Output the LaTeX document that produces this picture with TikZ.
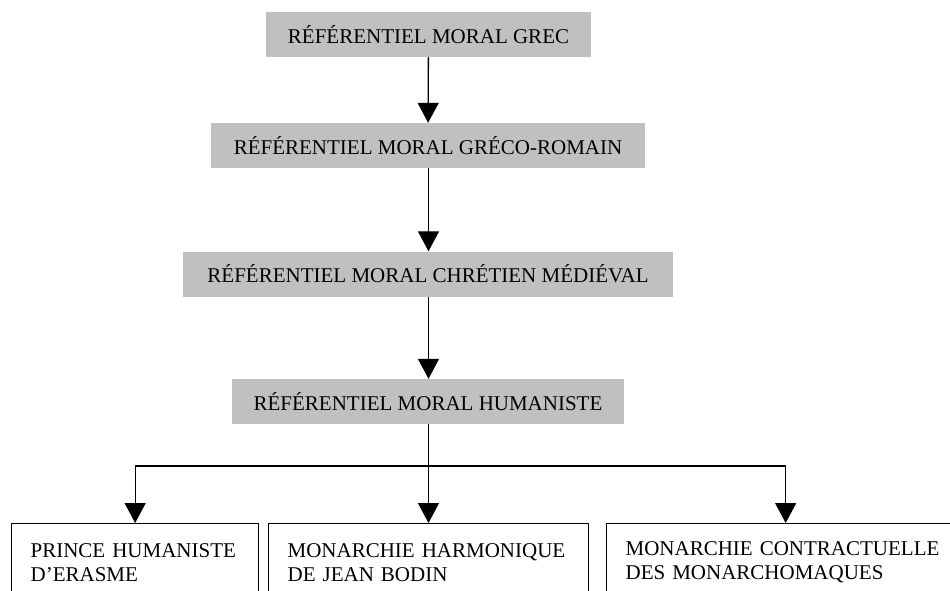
\documentclass[tikz,border=0pt]{standalone}
\usepackage{fontspec}
\setmainfont{Liberation Serif}
\usepackage{tikz}
\usetikzlibrary{positioning,calc,arrows.meta}
\definecolor{refgrey}{RGB}{192,192,192}

\begin{document}
\begin{tikzpicture}[x=1pt, y=-1pt,
    every node/.style={font=\fontsize{21}{24}\selectfont},
    referentiel/.style={fill=refgrey, minimum height=45pt, inner sep=0pt},
    modele/.style={draw, line width=1.3pt, anchor=north west, minimum height=78pt, inner xsep=19pt, inner ysep=0pt, align=left},
    fleche/.style={line width=1.3pt, -{Triangle[width=21pt,length=20pt]}}]
            \useasboundingbox (0,0) rectangle (950,591);
            \node[referentiel, minimum width=325pt] (grec) at (428.5,34.5) {RÉFÉRENTIEL MORAL GREC};
            \node[referentiel, minimum width=434pt] (greco) at (428,145.5) {RÉFÉRENTIEL MORAL GRÉCO-ROMAIN};
            \node[referentiel, minimum width=490pt] (chretien) at (428,274) {RÉFÉRENTIEL MORAL CHRÉTIEN MÉDIÉVAL};
            \node[referentiel, minimum width=392pt] (humaniste) at (428,401.5) {RÉFÉRENTIEL MORAL HUMANISTE};
            \node[modele, text width=209pt] (erasme) at (11,523) {PRINCE HUMANISTE\\D’ERASME};
            \node[modele, text width=282pt] (bodin) at (268,523) {MONARCHIE HARMONIQUE\\DE JEAN BODIN};
            \node[modele, text width=320pt] (monarchomaques) at (606,523) {MONARCHIE CONTRACTUELLE\\DES MONARCHOMAQUES};
            \coordinate (fourche) at (428.5,466);
            \draw[fleche] (grec) -- (greco);
            \draw[fleche] (greco.south -| grec) -- (chretien.north -| grec);
            \draw[fleche] (chretien.south -| grec) -- (humaniste.north -| grec);
            \draw[line width=1.3pt] (humaniste.south -| fourche) -- (fourche);
            \draw[fleche] (fourche) -| (erasme);
            \draw[fleche] (fourche) -- (bodin.north -| fourche);
            \draw[fleche] (fourche) -| (monarchomaques);
        \end{tikzpicture}
\end{document}
